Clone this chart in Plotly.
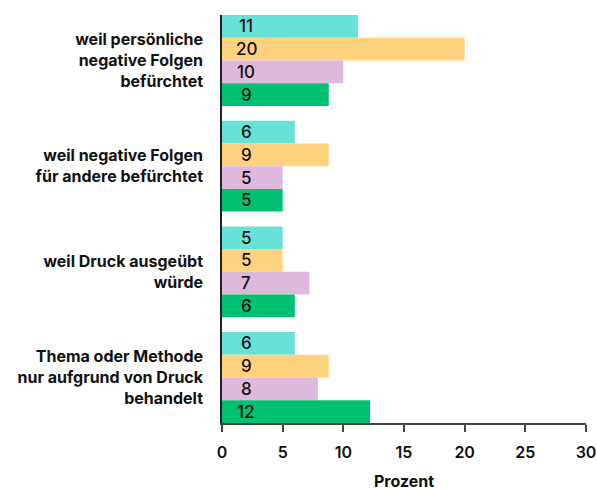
import plotly.graph_objects as go

categories = [
    "weil persönliche<br>negative Folgen<br>befürchtet",
    "weil negative Folgen<br>für andere befürchtet",
    "weil Druck ausgeübt<br>würde",
    "Thema oder Methode<br>nur aufgrund von Druck<br>behandelt",
]
series_names = ["Serie 1", "Serie 2", "Serie 3", "Serie 4"]
series_values = [
    [11.2, 6.0, 5.0, 6.0],
    [20.0, 8.8, 5.0, 8.8],
    [10.0, 5.0, 7.2, 7.9],
    [8.8, 5.0, 6.0, 12.2],
]
colors = ["#68e1d8", "#ffd27f", "#dfb9dc", "#00c172"]
x_ticks = [0, 5, 10, 15, 20, 25, 30]

FONT = "Inter"
ypos = list(range(len(categories)))

fig = go.Figure()
for name, vals, col in zip(series_names, series_values, colors):
    fig.add_trace(go.Bar(
        y=ypos, x=vals, orientation="h", name=name,
        marker=dict(color=col, line=dict(width=0)),
        textposition="none",
        hoverinfo="x+y",
    ))

# value labels placed near the start of each bar
n = len(series_values)
gap = 0.14
bw = (1 - gap) / n
for i, vals in enumerate(series_values):
    for j, v in enumerate(vals):
        yc = j - (1 - gap) / 2 + bw * (i + 0.5)
        fig.add_annotation(x=2, y=yc, text=f"{round(v)}", showarrow=False,
                           xanchor="center", yanchor="middle",
                           font=dict(family=FONT, size=17, color="#111111", weight=500))

fig.update_layout(
    width=597, height=491,
    margin=dict(l=222, r=11, t=15, b=68),
    barmode="group", bargap=gap, bargroupgap=0,
    showlegend=False,
    plot_bgcolor="white", paper_bgcolor="white",
    font=dict(family=FONT, color="#111111"),
    xaxis=dict(
        range=[0, 30], tickvals=x_ticks, ticktext=[str(t) for t in x_ticks],
        showgrid=False, zeroline=False, automargin=False,
        showline=True, linecolor="#444444", linewidth=1.5,
        ticks="outside", ticklen=7, tickcolor="#444444", tickwidth=1.5,
        ticklabelstandoff=7,
        tickfont=dict(family=FONT, size=16, color="#111111", weight=600),
        title=dict(text="Prozent", standoff=17,
                   font=dict(family=FONT, size=16, color="#111111", weight=700)),
    ),
    yaxis=dict(
        range=[len(categories) - 0.5 - gap / 2, -0.5 + gap / 2],
        tickvals=ypos, ticktext=categories,
        showgrid=False, zeroline=False, automargin=False,
        showline=True, linecolor="#222222", linewidth=1.5,
        ticks="outside", ticklen=14, tickcolor="rgba(0,0,0,0)",
        tickfont=dict(family=FONT, size=16, color="#111111", weight=700),
    ),
)

# remove the default page margin so the figure fills the window exactly
fig.write_html(
    "out.html",
    config={"displayModeBar": False},
    post_script="document.body.style.margin='0';document.body.style.overflow='hidden';",
)
